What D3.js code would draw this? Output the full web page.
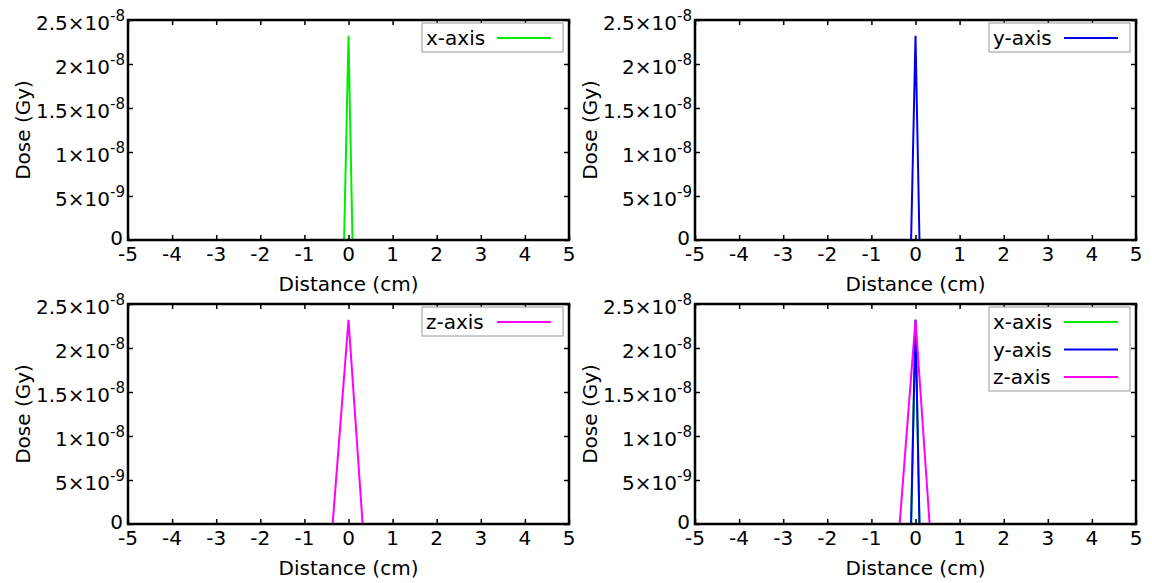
<!DOCTYPE html>
<html><head><meta charset="utf-8">
<script src="https://cdn.jsdelivr.net/npm/d3@7"></script>
<style>body{margin:0;background:#fff}text{font-family:"DejaVu Sans",sans-serif;fill:#000}</style>
</head><body><svg id="c" width="1152" height="583"></svg>
<script>
const xTicks = [-5,-4,-3,-2,-1,0,1,2,3,4,5];
const yTicks = [0,5e-9,1e-8,1.5e-8,2e-8,2.5e-8];
const yTickMantissa = ["0","5","1","1.5","2","2.5"];
const yTickExp = ["","-9","-8","-8","-8","-8"];
const xAxisDist = [-5,-0.1,0,0.09,5];
const xAxisDose = [0,0,2.32e-8,0,0];
const yAxisDist = [-5,-0.1,0,0.09,5];
const yAxisDose = [0,0,2.32e-8,0,0];
const zAxisDist = [-5,-0.36,0,0.32,5];
const zAxisDose = [0,0,2.32e-8,0,0];
const seriesNames = ["x-axis","y-axis","z-axis"];
const seriesColors = ["#00ee00","#0000ee","#ff00ff"];
const xLabel = "Distance (cm)";
const yLabel = "Dose (Gy)";

const series = [
  {name:seriesNames[0], color:seriesColors[0], pts:xAxisDist.map((d,i)=>[d,xAxisDose[i]])},
  {name:seriesNames[1], color:seriesColors[1], pts:yAxisDist.map((d,i)=>[d,yAxisDose[i]])},
  {name:seriesNames[2], color:seriesColors[2], pts:zAxisDist.map((d,i)=>[d,zAxisDose[i]])}
];
const panels = [
  {left:128, top:20, s:[0]},
  {left:695, top:20, s:[1]},
  {left:128, top:304, s:[2]},
  {left:695, top:304, s:[0,1,2]}
];
const W = 441, H = 220;
const FS = 20;
const svg = d3.select("#c");

panels.forEach(p=>{
  const g = svg.append("g").attr("transform",`translate(${p.left},${p.top})`);
  const x = d3.scaleLinear().domain([-5,5]).range([0,W]);
  const y = d3.scaleLinear().domain([0,2.5e-8]).range([H,0]);
  const tk = 5;
  const style = a=>{a.select(".domain").remove(); a.selectAll("line").attr("stroke","#000").attr("stroke-width",1.5);};
  g.append("g").attr("transform",`translate(0,${H})`).call(d3.axisBottom(x).tickValues(xTicks).tickSize(-tk).tickFormat("")).call(style);
  g.append("g").call(d3.axisTop(x).tickValues(xTicks).tickSize(-tk).tickFormat("")).call(style);
  g.append("g").call(d3.axisLeft(y).tickValues(yTicks).tickSize(-tk).tickFormat("")).call(style);
  g.append("g").attr("transform",`translate(${W},0)`).call(d3.axisRight(y).tickValues(yTicks).tickSize(-tk).tickFormat("")).call(style);

  // x tick labels
  g.selectAll(".xl").data(xTicks).enter().append("text")
    .attr("x",d=>x(d)).attr("y",H+21).attr("text-anchor","middle").attr("font-size",FS).text(d=>d);
  // y tick labels
  yTicks.forEach((v,i)=>{
    const t = g.append("text").attr("x",yTickExp[i]?-3:-5).attr("y",y(v)+(yTickExp[i]?10:5)).attr("text-anchor","end").attr("font-size",FS);
    if(yTickExp[i]){
      t.append("tspan").text(yTickMantissa[i]+"×10");
      t.append("tspan").attr("dy",-9).attr("font-size",15).text(yTickExp[i]);
    } else t.text(yTickMantissa[i]);
  });
  // axis titles
  g.append("text").attr("x",W/2).attr("y",H+51).attr("text-anchor","middle").attr("font-size",FS).text(xLabel);
  g.append("text").attr("transform",`translate(${-98},${H/2}) rotate(-90)`).attr("text-anchor","middle").attr("font-size",FS).text(yLabel);

  // lines
  const line = d3.line().x(d=>x(d[0])).y(d=>y(d[1]));
  p.s.forEach(si=>{
    g.append("path").datum(series[si].pts).attr("d",line).attr("fill","none")
      .attr("stroke",series[si].color).attr("stroke-width",2);
  });

  // legend
  const n = p.s.length;
  const lw = 141, lh = 29 + (n-1)*27.5;
  const lg = g.append("g").attr("transform",`translate(${W-147},${3})`);
  lg.append("rect").attr("width",lw).attr("height",lh).attr("fill","#fff").attr("stroke","#999").attr("stroke-width",1);
  p.s.forEach((si,k)=>{
    const cy = 15 + k*27.5;
    lg.append("text").attr("x",4).attr("y",cy+7).attr("font-size",FS).text(series[si].name);
    lg.append("line").attr("x1",75).attr("x2",129).attr("y1",cy).attr("y2",cy)
      .attr("stroke",series[si].color).attr("stroke-width",2);
  });

  // frame
  g.append("rect").attr("width",W).attr("height",H).attr("fill","none").attr("stroke","#000").attr("stroke-width",2.5);
});
</script></body></html>
